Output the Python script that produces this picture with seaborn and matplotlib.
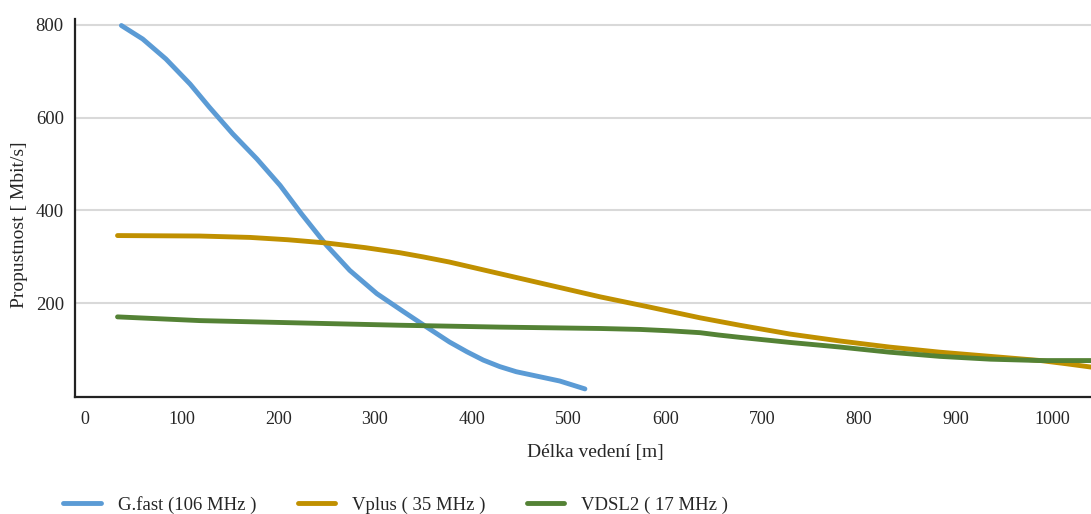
import matplotlib
matplotlib.use('Agg')
import matplotlib.pyplot as plt
import seaborn as sns

# Data (line length in m, throughput in Mbit/s)
gfast_x = [38, 60, 84, 109, 129, 153, 178, 202, 224, 250, 274, 302, 329,
           355, 377, 395, 412, 429, 446, 464, 491, 517]
gfast_y = [798, 769, 726, 672, 622, 565, 511, 454, 393, 325, 271, 221, 183,
           147, 117, 96, 78, 64, 53, 45, 33, 16]

vplus_x = [34, 119, 171, 210, 250, 290, 326, 350, 377, 429, 481, 533, 584,
           636, 677, 729, 781, 832, 884, 936, 988, 1015, 1040]
vplus_y = [346, 345, 342, 337, 330, 320, 309, 300, 289, 264, 239, 214, 192,
           169, 153, 134, 119, 106, 95, 86, 77, 70, 63]

vdsl_x = [34, 119, 222, 326, 429, 533, 574, 605, 636, 655, 677, 729, 781,
          832, 884, 936, 988, 1040]
vdsl_y = [171, 163, 158, 153, 149, 146, 144, 141, 137, 132, 127, 116, 106,
          95, 86, 80, 77, 77]

x_ticks = [0, 100, 200, 300, 400, 500, 600, 700, 800, 900, 1000]
y_ticks = [200, 400, 600, 800]

# Labels
x_l = 'Délka vedení [m]'
y_l = 'Propustnost [ Mbit/s]'
gfast_l = 'G.fast (106 MHz )'
vplus_l = 'Vplus ( 35 MHz )'
vdsl_l = 'VDSL2 ( 17 MHz )'
# Colors
gfast_c = '#5B9BD5'
vplus_c = '#C09000'
vdsl_c = '#548235'
grid_c = '#D9D9D9'

sns.set_style('white')
plt.rcParams['font.family'] = ['Liberation Serif', 'DejaVu Serif']

# Creating figure
fig = plt.figure(figsize=(10.91, 5.14), dpi=100)
ax = fig.add_axes([0.0687, 0.228, 0.9313, 0.735])

# Lines
lw = 3.5
line_kw = dict(lw=lw, ax=ax, solid_capstyle='round', solid_joinstyle='round')
sns.lineplot(x=gfast_x, y=gfast_y, color=gfast_c, label=gfast_l, **line_kw)
sns.lineplot(x=vplus_x, y=vplus_y, color=vplus_c, label=vplus_l, **line_kw)
sns.lineplot(x=vdsl_x, y=vdsl_y, color=vdsl_c, label=vdsl_l, **line_kw)

# Axes limits and ticks
ax.set_xlim(-10, 1040)
ax.set_ylim(-1, 812)
ax.set_xticks(x_ticks)
ax.set_yticks(y_ticks)
ax.tick_params(axis='x', length=0, pad=10, labelsize=13)
ax.tick_params(axis='y', length=0, pad=8, labelsize=13.5)

# Gridlines
ax.yaxis.grid(True, color=grid_c, lw=1.5)
ax.set_axisbelow(True)

# Spines
for s in ['top', 'right']:
    ax.spines[s].set_visible(False)
for s in ['left', 'bottom']:
    ax.spines[s].set_color('#222222')
    ax.spines[s].set_linewidth(1.6)

# Axis labels
ax.set_xlabel(x_l, fontsize=14)
ax.xaxis.set_label_coords(0.512, -0.125)
ax.set_ylabel(y_l, fontsize=14)
ax.yaxis.set_label_coords(-0.046, 0.455)

# Legend
ax.legend(loc='lower left', bbox_to_anchor=(-0.028, -0.355), ncol=3,
          frameon=False, fontsize=13.5, handlelength=2.0, columnspacing=2.2,
          handletextpad=0.9)

fig.savefig('out.png', dpi=100)
